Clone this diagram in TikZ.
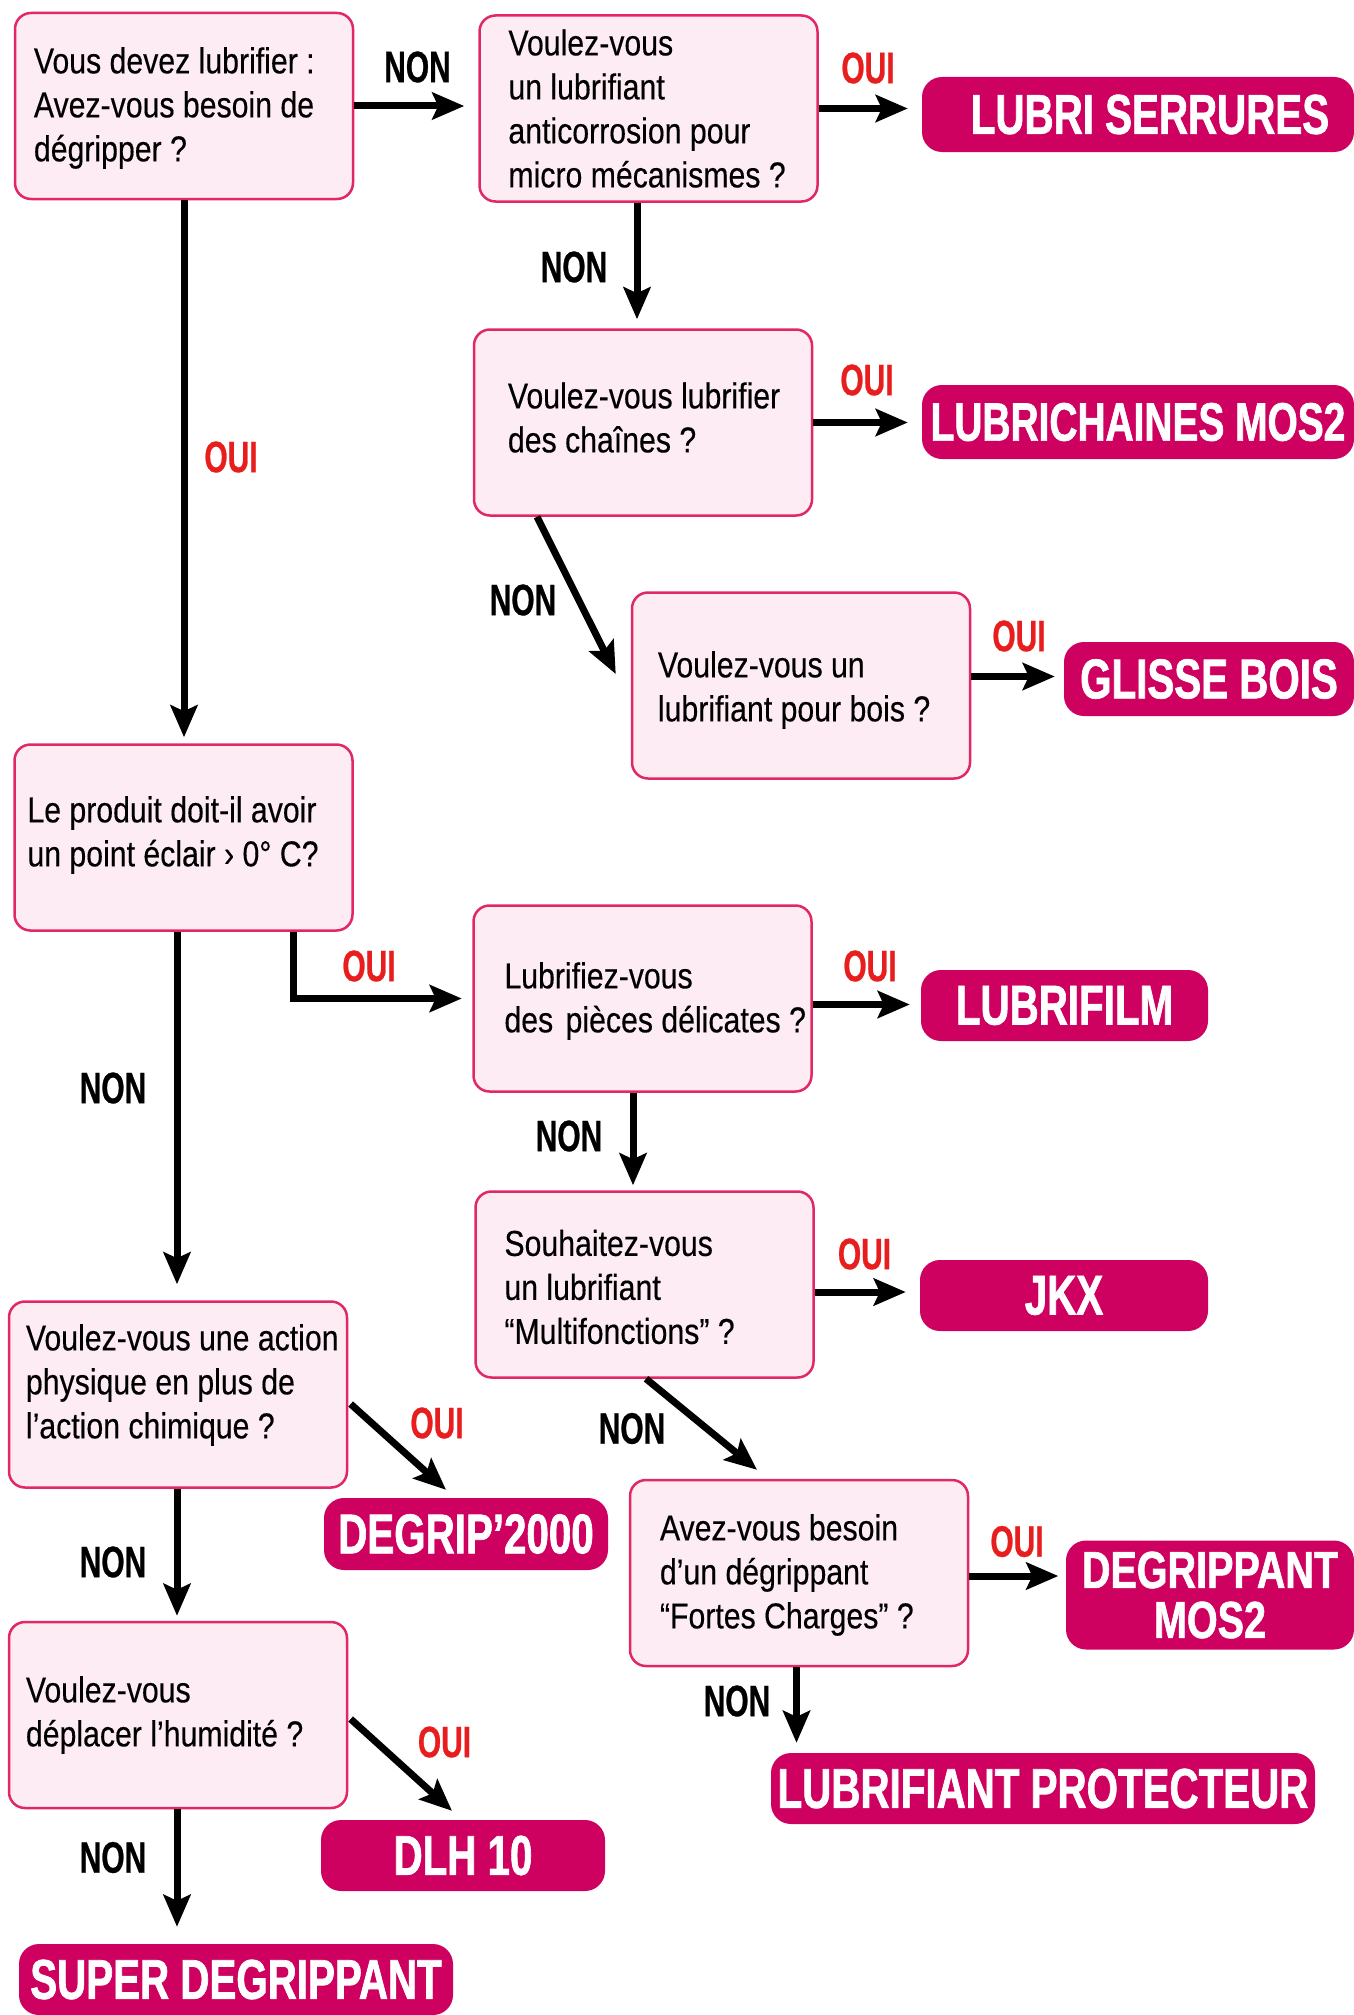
\documentclass[tikz,border=0pt]{standalone}
\usepackage{fontspec}
\setmainfont{Liberation Sans}[FakeStretch=0.84,FakeBold=0.3]
\newfontfamily\labfont{Liberation Sans}[FakeStretch=0.68,FakeBold=0.6]
\newfontfamily\prodfont{Liberation Sans}[FakeStretch=0.72,FakeBold=1.2]
\newfontfamily\prodfontw{Liberation Sans}[FakeStretch=0.76,FakeBold=1.2]
\usetikzlibrary{arrows.meta,calc}
\definecolor{boxfill}{RGB}{253,236,243}
\definecolor{boxline}{RGB}{226,40,100}
\definecolor{prodc}{RGB}{206,0,96}
\definecolor{ouired}{RGB}{232,30,30}
\begin{document}
\begin{tikzpicture}[x=1pt,y=-1pt,
  qbox/.style={draw=boxline, fill=boxfill, line width=2.5pt, rounded corners=16pt,
    minimum width=338pt, minimum height=186pt, inner sep=0pt},
  qtext/.style={anchor=west, align=left, inner sep=0pt, font=\fontsize{36}{44}\selectfont},
  prod/.style={fill=prodc, rounded corners=20pt, inner sep=0pt, text=white,
    font=\prodfont\bfseries\fontsize{56}{48}\selectfont, align=center},
  arr/.style={line width=7pt, -{Stealth[length=32pt,width=27pt,inset=6pt]}},
  non/.style={font=\labfont\bfseries\fontsize{44}{44}\selectfont, text=black, inner sep=0pt},
  oui/.style={font=\labfont\bfseries\fontsize{44}{44}\selectfont, text=ouired, inner sep=0pt}]
\path[use as bounding box, fill=white] (0,0) rectangle (1354,2015);

% question boxes
\node[qbox] (A) at (184,106) {};
\node[qtext] (At) at ($(A.west)+(20,2)$) {Vous devez lubrifier :\\Avez-vous besoin de\\dégripper ?};
\node[qbox] (B) at (648.5,108.5) {};
\node[qtext] (Bt) at ($(B.west)+(30,0)$) {Voulez-vous\\un lubrifiant\\anticorrosion pour\\micro mécanismes ?};
\node[qbox] (C) at (643,422.5) {};
\node[qtext] (Ct) at ($(C.west)+(35,-5)$) {Voulez-vous lubrifier\\des chaînes ?};
\node[qbox] (D) at (801,685.5) {};
\node[qtext] (Dt) at ($(D.west)+(27,4.5)$) {Voulez-vous un\\lubrifiant pour bois ?};
\node[qbox] (E) at (183.5,837.5) {};
\node[qtext] (Et) at ($(E.west)+(14,-2.5)$) {Le produit doit-il avoir\\un point éclair › 0° C?};
\node[qbox] (F) at (642.5,998.5) {};
\node[qtext] (Ft) at ($(F.west)+(32,2.5)$) {Lubrifiez-vous\\des\hspace{4pt} pièces délicates ?};
\node[qbox] (G) at (644.5,1284.5) {};
\node[qtext] (Gt) at ($(G.west)+(30,2.5)$) {Souhaitez-vous\\un lubrifiant\\“Multifonctions” ?};
\node[qbox] (H) at (178,1394.5) {};
\node[qtext] (Ht) at ($(H.west)+(18,-9.5)$) {Voulez-vous une action\\physique en plus de\\l’action chimique ?};
\node[qbox] (I) at (799,1573) {};
\node[qtext] (It) at ($(I.west)+(31,2)$) {Avez-vous besoin\\d’un dégrippant\\“Fortes Charges” ?};
\node[qbox] (J) at (178,1715) {};
\node[qtext] (Jt) at ($(J.west)+(18,0)$) {Voulez-vous\\déplacer l’humidité ?};

% products
\node[prod, minimum width=432pt, minimum height=75pt] (LS) at (1138,114.5) {\hspace*{24pt}LUBRI SERRURES};
\node[prod, minimum width=432pt, minimum height=74pt, font=\prodfont\bfseries\fontsize{54}{54}\selectfont] (LC) at (1138,422) {LUBRICHAINES MOS2};
\node[prod, minimum width=290pt, minimum height=74pt] (GB) at (1209,679) {GLISSE BOIS};
\node[prod, minimum width=287pt, minimum height=71pt] (LF) at (1064.5,1005.5) {LUBRIFILM};
\node[prod, minimum width=288pt, minimum height=71pt] (JK) at (1064,1295.5) {JKX};
\node[prod, minimum width=284pt, minimum height=72pt] (DG) at (466,1534) {DEGRIP’2000};
\node[prod, minimum width=288pt, minimum height=109pt, font=\prodfontw\bfseries\fontsize{52}{50}\selectfont] (DM) at (1210,1595) {DEGRIPPANT\\MOS2};
\node[prod, minimum width=544pt, minimum height=71pt] (LP) at (1043,1788.5) {LUBRIFIANT PROTECTEUR};
\node[prod, minimum width=284pt, minimum height=71pt] (DL) at (463,1855.5) {DLH 10};
\node[prod, minimum width=434pt, minimum height=71pt] (SD) at (236,1979.5) {SUPER DEGRIPPANT};

% connector anchor points
\coordinate (a1) at (A.south);
\coordinate (b1) at ($(B.south)+(-11.5,0)$);
\coordinate (c1) at ($(C.south)+(-106,0)$);
\coordinate (d1) at ($(D.west)+(-15,-11.5)$);
\coordinate (d2) at ($(D.east)+(0,-9)$);
\coordinate (e1) at ($(E.south)+(109.5,0)$);
\coordinate (e2) at ($(E.south)+(-6.5,0)$);
\coordinate (f0) at ($(F.west)+(-10.5,0)$);
\coordinate (f1) at ($(F.east)+(0,6)$);
\coordinate (f2) at ($(F.south)+(-9.5,0)$);
\coordinate (g1) at ($(G.east)+(0,7.5)$);
\coordinate (g2) at ($(G.south)+(1.5,0)$);
\coordinate (i0) at ($(I.north)+(-42,-9)$);
\coordinate (h1) at ($(H.east)+(2.4,9.5)$);
\coordinate (dg0) at ($(DG.north)+(-20,-8)$);
\coordinate (h2) at ($(H.south)+(-1,0)$);
\coordinate (i1) at ($(I.east)+(0,3)$);
\coordinate (i2) at ($(I.south)+(-2.5,0)$);
\coordinate (j1) at ($(J.east)+(2.4,4)$);
\coordinate (dl0) at ($(DL.north)+(-11,-9)$);
\coordinate (j2) at ($(J.south)+(-1,0)$);

% connectors
\draw[arr, shorten >=14pt] (A.east) -- (A.east -| B.west);
\draw[arr, shorten >=14pt] (B.east) -- (B.east -| LS.west);
\draw[arr, shorten >=9pt] (b1) -- (b1 |- C.north);
\draw[arr, shorten >=14pt] (C.east) -- (C.east -| LC.west);
\draw[arr] (c1) -- (d1);
\draw[arr, shorten >=9pt] (d2) -- (d2 -| GB.west);
\draw[arr, shorten >=6pt] (a1) -- (a1 |- E.north);
\draw[arr] (e1) |- (f0);
\draw[arr, shorten >=11pt] (f1) -- (f1 -| LF.west);
\draw[arr, shorten >=5pt] (f2) -- (f2 |- G.north);
\draw[arr, shorten >=14pt] (g1) -- (g1 -| JK.west);
\draw[arr] (g2) -- (i0);
\draw[arr, shorten >=16pt] (e2) -- (e2 |- H.north);
\draw[arr] (h1) -- (dg0);
\draw[arr, shorten >=5pt] (h2) -- (h2 |- J.north);
\draw[arr, shorten >=7.5pt] (i1) -- (i1 -| DM.west);
\draw[arr, shorten >=10pt] (i2) -- (i2 |- LP.north);
\draw[arr] (j1) -- (dl0);
\draw[arr, shorten >=17pt] (j2) -- (j2 |- SD.north);

% labels
\node[non] (n1) at (417.5,67) {NON};
\node[oui] (o1) at (868,68) {OUI};
\node[non] (n2) at (574,267) {NON};
\node[oui] (o2) at (867,380) {OUI};
\node[non] (n3) at (523,600) {NON};
\node[oui] (o3) at (1019,636) {OUI};
\node[oui] (o4) at (231,457) {OUI};
\node[oui] (o5) at (369,966) {OUI};
\node[oui] (o6) at (870,966) {OUI};
\node[non] (n4) at (569,1136) {NON};
\node[oui] (o7) at (864.5,1254) {OUI};
\node[non] (n5) at (632,1428.5) {NON};
\node[non] (n6) at (113,1088) {NON};
\node[oui] (o8) at (437,1423) {OUI};
\node[non] (n7) at (113,1562) {NON};
\node[oui] (o9) at (1017,1541.5) {OUI};
\node[non] (n8) at (737,1701) {NON};
\node[oui] (o10) at (444.5,1742) {OUI};
\node[non] (n9) at (113,1857.5) {NON};
\end{tikzpicture}
\end{document}
